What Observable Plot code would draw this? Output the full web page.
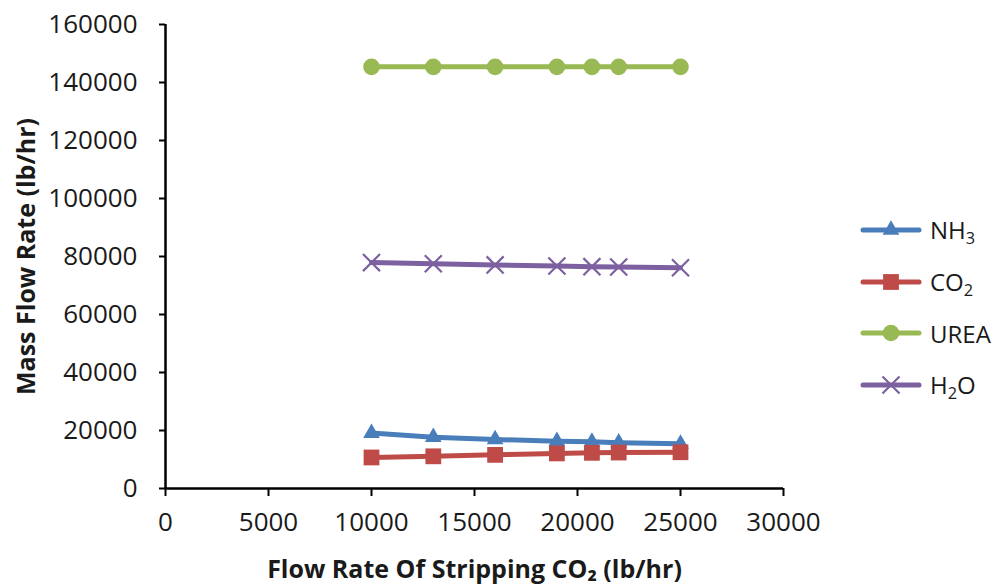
<!DOCTYPE html>
<html><head><meta charset="utf-8">
<script src="https://cdn.jsdelivr.net/npm/d3@7"></script>
<script src="https://cdn.jsdelivr.net/npm/@observablehq/plot@0.6"></script>
<style>
body{margin:0;background:#fff;font-family:"Open Sans",sans-serif;}
#wrap{position:relative;width:996px;height:586px;overflow:hidden;}
#legend{position:absolute;left:859px;top:204px;}
.row{display:flex;align-items:center;height:51.7px;font-size:24px;color:#1a1a1a;white-space:nowrap;}
.row svg{margin-right:7px;display:block}
.row sub{font-size:0.68em;vertical-align:-0.28em;line-height:0}
</style></head><body>
<div id="wrap"><div id="chart"></div><div id="legend"></div></div>
<script>
// Data
const flowCO2 = [10000, 13000, 16000, 19000, 20700, 22000, 25000];
const seriesNames = ["NH3", "CO2", "UREA", "H2O"];
const seriesLabels = ["NH<sub>3</sub>", "CO<sub>2</sub>", "UREA", "H<sub>2</sub>O"];
const nh3  = [19100, 17700, 16900, 16300, 16100, 15800, 15400];
const co2  = [10700, 11100, 11600, 12100, 12300, 12400, 12500];
const urea = [145400, 145400, 145400, 145400, 145400, 145400, 145400];
const h2o  = [77900, 77500, 77100, 76700, 76500, 76400, 76100];
const xTicks = [0, 5000, 10000, 15000, 20000, 25000, 30000];
const yTicks = [0, 20000, 40000, 60000, 80000, 100000, 120000, 140000, 160000];
const xTitle = "Flow Rate Of Stripping CO₂ (lb/hr)";
const yTitle = "Mass Flow Rate (lb/hr)";
const colors = ["#4A7EBB", "#BE4B48", "#98B954", "#7D60A0"];
const symbols = ["triangle", "square", "circle", "times"];
const radii = [6.2, 8.9, 8.3, 7.8];

const values = [nh3, co2, urea, h2o];
const rows = [];
seriesNames.forEach((s, i) => flowCO2.forEach((x, j) => rows.push({series: s, x, y: values[i][j]})));

const dotMarks = seriesNames.map((s, i) => {
  const data = rows.filter(d => d.series === s);
  if (symbols[i] === "times") {
    return Plot.dot(data, {x: "x", y: "y", symbol: () => "times", stroke: colors[i], strokeWidth: 2.2, r: radii[i]});
  }
  return Plot.dot(data, {x: "x", y: "y", symbol: () => symbols[i], fill: colors[i], stroke: "none", r: radii[i]});
});

const chart = Plot.plot({
  width: 850, height: 586,
  marginLeft: 165, marginRight: 67, marginTop: 24, marginBottom: 98,
  style: {fontFamily: "Open Sans, sans-serif", background: "white", color: "#1a1a1a", overflow: "visible"},
  x: {domain: [0, 30000]},
  y: {domain: [0, 160000]},
  symbol: {domain: ["triangle","square","circle","times"], range: ["triangle","square","circle","times"]},
  marks: [
    Plot.axisX({ticks: xTicks, tickSize: 8, tickPadding: 16, tickFormat: d => String(d), fontSize: 26, label: null, stroke: "black", strokeWidth: 2}),
    Plot.axisY({ticks: yTicks, tickSize: 6, tickPadding: 22, tickFormat: d => String(d), fontSize: 26, label: null, stroke: "black", strokeWidth: 2}),
    Plot.ruleX([0], {stroke: "black", strokeWidth: 2.5}),
    Plot.ruleY([0], {stroke: "black", strokeWidth: 2.5}),
    Plot.line(rows, {x: "x", y: "y", z: "series", stroke: d => colors[seriesNames.indexOf(d.series)], strokeWidth: 5, strokeLinejoin: "round", strokeLinecap: "round"}),
    ...dotMarks,
    Plot.text([yTitle], {frameAnchor: "left", textAnchor: "middle", rotate: -90, dx: -139, fontWeight: "bold", fontSize: 25, fill: "#1a1a1a"}),
    Plot.text([xTitle], {frameAnchor: "bottom", textAnchor: "middle", dy: 89, fontWeight: "bold", fontSize: 25, fill: "#1a1a1a"})
  ]
});
document.getElementById("chart").appendChild(chart);

// Legend
const legend = d3.select("#legend");
seriesNames.forEach((s, i) => {
  const row = legend.append("div").attr("class", "row");
  const svg = row.append("svg").attr("width", 64).attr("height", 24);
  svg.append("line").attr("x1", 4).attr("x2", 60).attr("y1", 12).attr("y2", 12)
    .attr("stroke", colors[i]).attr("stroke-width", 5).attr("stroke-linecap", "round");
  const symMap = {triangle: d3.symbolTriangle, square: d3.symbolSquare, circle: d3.symbolCircle, times: d3.symbolTimes};
  const p = svg.append("path").attr("transform", "translate(32,12)")
    .attr("d", d3.symbol(symMap[symbols[i]], Math.PI * radii[i] * radii[i])());
  if (symbols[i] === "times") p.attr("fill", "none").attr("stroke", colors[i]).attr("stroke-width", 2.2);
  else p.attr("fill", colors[i]);
  row.append("span").html(seriesLabels[i]);
});
</script>
</body></html>
